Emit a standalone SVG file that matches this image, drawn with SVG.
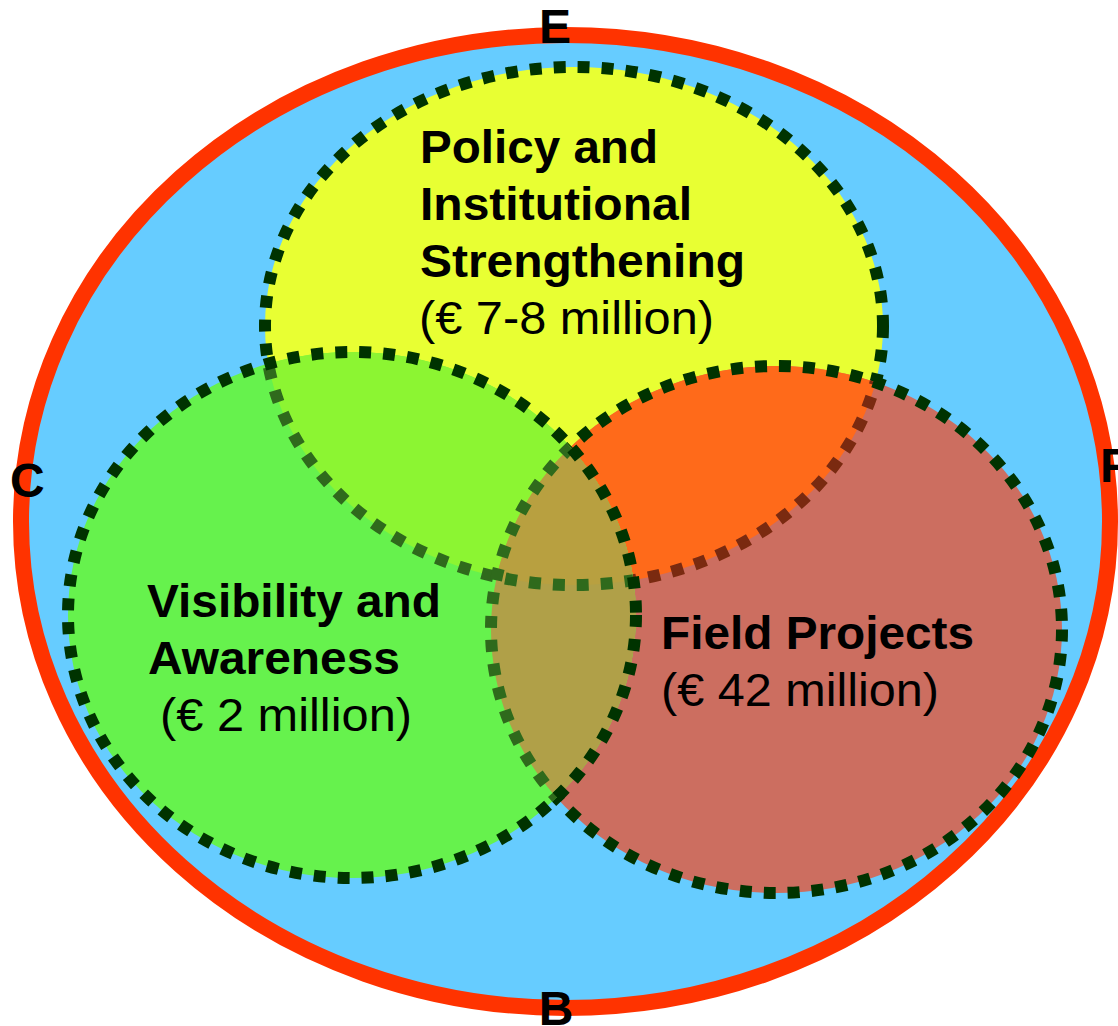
<svg xmlns="http://www.w3.org/2000/svg" width="1118" height="1026" viewBox="0 0 1118 1026">
<style>
.lbl{font-family:"Liberation Sans",Arial,sans-serif;font-weight:bold;font-size:48px;fill:#000}
.b{font-family:"Liberation Sans",Arial,sans-serif;font-weight:bold;font-size:47px;fill:#000}
.m{font-family:"Liberation Sans",Arial,sans-serif;font-size:47px;fill:#000}
.dash{fill:none;stroke:#003300;stroke-width:12;stroke-dasharray:12 12}
.fadeR{fill:none;stroke:#7A2A10;stroke-width:12;stroke-dasharray:12 12}
.fadeG{fill:none;stroke:#2F6A1C;stroke-width:12;stroke-dasharray:12 12}
</style>
<defs>
<clipPath id="cY"><ellipse cx="574" cy="326" rx="309" ry="259"/></clipPath>
<clipPath id="cR"><ellipse cx="776.5" cy="629.5" rx="285.5" ry="263.5"/></clipPath>
<clipPath id="cG"><ellipse cx="352" cy="615" rx="284" ry="263"/></clipPath>
</defs>
<g id="outer">
<ellipse cx="565.5" cy="521.5" rx="544.5" ry="486.5" fill="#66CCFF" stroke="#FF3300" stroke-width="16"/>
</g>
<g id="policy">
<ellipse cx="574" cy="326" rx="309" ry="259" fill="#E8FF33"/>
<ellipse class="dash" cx="574" cy="326" rx="309" ry="259"/>
</g>
<g id="field">
<ellipse cx="776.5" cy="629.5" rx="285.5" ry="263.5" fill="#CC6E60"/>
<ellipse cx="776.5" cy="629.5" rx="285.5" ry="263.5" fill="#FF6A1A" clip-path="url(#cY)"/>
<ellipse class="fadeR" cx="574" cy="326" rx="309" ry="259" clip-path="url(#cR)"/>
<ellipse class="dash" cx="776.5" cy="629.5" rx="285.5" ry="263.5"/>
</g>
<g id="visibility">
<ellipse cx="352" cy="615" rx="284" ry="263" fill="#66F24D"/>
<ellipse cx="352" cy="615" rx="284" ry="263" fill="#8CF532" clip-path="url(#cY)"/>
<ellipse cx="352" cy="615" rx="284" ry="263" fill="#B0A048" clip-path="url(#cR)"/>
<g clip-path="url(#cR)"><ellipse cx="352" cy="615" rx="284" ry="263" fill="#B8A040" clip-path="url(#cY)"/></g>
<g clip-path="url(#cG)">
<ellipse class="fadeG" cx="574" cy="326" rx="309" ry="259"/>
<ellipse class="fadeG" cx="776.5" cy="629.5" rx="285.5" ry="263.5"/>
</g>
<ellipse class="dash" cx="352" cy="615" rx="284" ry="263"/>
</g>
<g id="texts">
<text class="b" x="420" y="163" textLength="238" lengthAdjust="spacingAndGlyphs">Policy and</text>
<text class="b" x="420" y="220" textLength="272" lengthAdjust="spacingAndGlyphs">Institutional</text>
<text class="b" x="420" y="277" textLength="325" lengthAdjust="spacingAndGlyphs">Strengthening</text>
<text class="m" x="419" y="334" textLength="295" lengthAdjust="spacingAndGlyphs">(€ 7-8 million)</text>
<text class="b" x="147" y="617" textLength="294" lengthAdjust="spacingAndGlyphs">Visibility and</text>
<text class="b" x="148" y="674" textLength="252" lengthAdjust="spacingAndGlyphs">Awareness</text>
<text class="m" x="160" y="731" textLength="252" lengthAdjust="spacingAndGlyphs">(€ 2 million)</text>
<text class="b" x="661" y="649" textLength="313" lengthAdjust="spacingAndGlyphs">Field Projects</text>
<text class="m" x="661" y="706" textLength="278" lengthAdjust="spacingAndGlyphs">(€ 42 million)</text>
</g>
<g id="labels">
<text class="lbl" x="555" y="43" text-anchor="middle">E</text>
<text class="lbl" x="10" y="497">C</text>
<text class="lbl" x="1100" y="482">F</text>
<text class="lbl" x="556" y="1025" text-anchor="middle">B</text>
</g>
</svg>
